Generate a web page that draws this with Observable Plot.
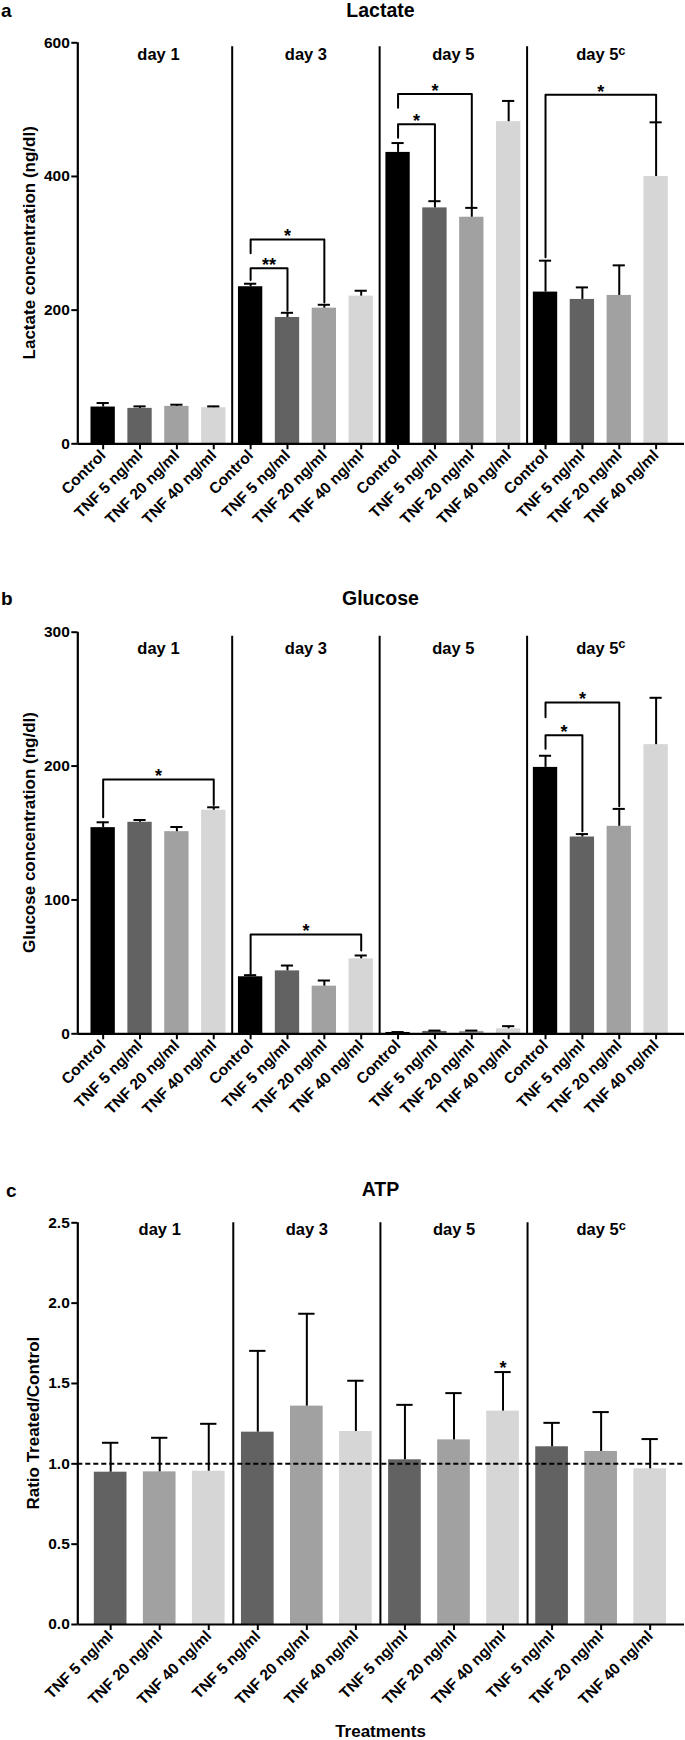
<!DOCTYPE html>
<html>
<head>
<meta charset="utf-8">
<script src="https://cdn.jsdelivr.net/npm/d3@7"></script>
<script src="https://cdn.jsdelivr.net/npm/@observablehq/plot@0.6"></script>
<style>
  body { margin: 0; background: #fff; }
  #root { position: relative; width: 685px; height: 1740px; overflow: hidden;
          font-family: "Liberation Sans", Arial, Helvetica, sans-serif; font-weight: bold; color: #000; background: #fff; }
  .abs { position: absolute; white-space: nowrap; line-height: 1; }
  .panel { position: absolute; left: 0; }
</style>
</head>
<body>
<div id="root"></div>
<script>
// ---------- data ----------
const groups = ["day 1", "day 3", "day 5", "day 5c"];
const lacTreatments = ["Control", "TNF 5 ng/ml", "TNF 20 ng/ml", "TNF 40 ng/ml"];
const atpTreatments = ["TNF 5 ng/ml", "TNF 20 ng/ml", "TNF 40 ng/ml"];
const treatmentColors = ["#000000", "#626262", "#a1a1a1", "#d6d6d6"];

// Lactate (ng/dl): mean and upper SD, 4 treatments x 4 days
const lactateMean = [55, 53, 56, 54, 235, 189, 203, 221, 436, 353, 339, 482, 227, 216, 222, 400];
const lactateErr  = [6, 3, 2.5, 2, 4.5, 7, 5, 8, 14, 10, 14, 31, 47, 18, 45, 81];
const lactateTicks = [0, 200, 400, 600];
const lacBrFrom  = [4, 4, 8, 8, 12];
const lacBrTo    = [5, 6, 9, 10, 15];
const lacBrLevel = [262.5, 305.8, 478, 523.4, 522.4];
const lacBrLeft  = [245, 285, 458, 503, 279];
const lacBrRight = [199, 211.6, 364.5, 355, 482];
const lacBrLabel = ["**", "*", "*", "*", "*"];

// Glucose (ng/dl)
const glucoseMean = [154, 158, 151, 167, 42.6, 47, 35.6, 56, 1.0, 1.8, 1.8, 3.7, 199, 147, 155, 216];
const glucoseErr  = [4, 1.7, 3.5, 2.2, 1.2, 4, 4.2, 2.5, 0.3, 0.6, 0.6, 2.0, 8.7, 2.2, 13, 35];
const glucoseTicks = [0, 100, 200, 300];
const gluBrFrom  = [0, 4, 12, 12];
const gluBrTo    = [3, 7, 13, 14];
const gluBrLevel = [190, 74.2, 223, 247.5];
const gluBrLeft  = [161.8, 44.8, 212.9, 236.5];
const gluBrRight = [171, 62.2, 151.4, 170];
const gluBrLabel = ["*", "*", "*", "*"];

// ATP ratio treated / control, 3 treatments x 4 days
const atpMean = [0.948, 0.950, 0.954, 1.197, 1.359, 1.201, 1.025, 1.149, 1.328, 1.106, 1.077, 0.969];
const atpErr  = [0.183, 0.212, 0.295, 0.506, 0.575, 0.316, 0.342, 0.291, 0.243, 0.149, 0.245, 0.185];
const atpTicks = [0, 0.5, 1.0, 1.5, 2.0, 2.5];
const atpReference = [1];
const atpStarIndex = [8];
const atpStarLabel = ["*"];

// ---------- drawing ----------
const FONT = '"Liberation Sans", Arial, Helvetica, sans-serif';

function barPanel(cfg) {
  const {treats, means, errs, yDomain, yTicks, yTickFormat, yLabel, labelX, br, stars, refLine,
         height, marginTop, marginBottom, xDomain, half, dayDy, sepInset} = cfg;
  const nPer = treats.length;
  const rows = means.map((m, i) => ({i, treat: treats[i % nPer], mean: m, top: m + errs[i]}));
  const seps = groups.slice(1).map((g, k) => (k + 1) * nPer - 0.5);
  const dayRows = groups.map((g, k) => ({label: g, x: (k * nPer + (k + 1) * nPer - 1) / 2}));
  const brPts = [], brText = [];
  if (br) br.from.forEach((f, k) => {
    const t = br.to[k];
    brPts.push({id: k, x: f, y: br.left[k]}, {id: k, x: f, y: br.level[k]},
               {id: k, x: t, y: br.level[k]}, {id: k, x: t, y: br.right[k]});
    brText.push({x: (f + t) / 2, y: br.level[k], text: br.label[k]});
  });
  const starRows = stars ? stars.idx.map((i, k) => ({x: i, y: rows[i].top, text: stars.label[k]})) : [];

  const svg = Plot.plot({
    width: 685, height, marginTop, marginBottom, marginLeft: 77.3, marginRight: 1,
    x: {type: "linear", domain: xDomain},
    y: {domain: yDomain},
    color: {domain: lacTreatments, range: treatmentColors},
    style: {fontFamily: FONT, fontWeight: "bold", fontSize: "14px", color: "#000", background: "#fff", overflow: "visible"},
    marks: [
      Plot.rectY(rows, {x1: d => d.i - half, x2: d => d.i + half, y1: 0, y2: "mean", fill: "treat"}),
      Plot.ruleX(rows, {x: "i", y1: "mean", y2: "top", stroke: "#000", strokeWidth: 2}),
      Plot.ruleY(rows, {y: "top", x1: d => d.i - half / 2, x2: d => d.i + half / 2, stroke: "#000", strokeWidth: 2}),
      refLine ? Plot.ruleY(refLine, {stroke: "#000", strokeWidth: 2, strokeDasharray: "5,3"}) : null,
      Plot.ruleX(seps, {insetTop: sepInset, stroke: "#000", strokeWidth: 2}),
      Plot.ruleY([yDomain[0]], {stroke: "#000", strokeWidth: 2.2}),
      Plot.ruleX([xDomain[0]], {y1: yDomain[0], y2: yDomain[1], stroke: "#000", strokeWidth: 2.2}),
      Plot.line(brPts, {x: "x", y: "y", z: "id", stroke: "#000", strokeWidth: 2}),
      Plot.text(brText, {x: "x", y: "y", text: "text", lineAnchor: "bottom", dy: 3, fontSize: 18}),
      Plot.text(starRows, {x: "x", y: "y", text: "text", lineAnchor: "bottom", dy: 2, fontSize: 18}),
      Plot.text(dayRows, {x: "x", text: "label", frameAnchor: "top", lineAnchor: "bottom", dy: dayDy, fontSize: 16.5}),
      Plot.axisY({ticks: yTicks, tickFormat: yTickFormat, tickSize: 6, tickPadding: 2, stroke: "#000", strokeWidth: 2, fontSize: 15.5, label: null}),
      Plot.axisX({ticks: rows.map(d => d.i), tickFormat: i => treats[i % nPer], tickRotate: -45,
                  tickSize: 6, tickPadding: 3, stroke: "#000", strokeWidth: 2, fontSize: 15.5, label: null})
    ]
  });
  // superscript "c" in "day 5c"
  d3.select(svg).selectAll("text").filter(function () { return this.textContent === "day 5c"; })
    .each(function () {
      const t = d3.select(this);
      t.text("day 5");
      t.append("tspan").attr("dy", "-0.45em").attr("font-size", "0.78em").text("c");
    });
  // rotated y-axis title, centred on the frame's vertical middle
  const cy = (marginTop + height - marginBottom) / 2;
  d3.select(svg).append("text")
    .attr("class", "ytitle")
    .attr("transform", `translate(${labelX},${cy}) rotate(-90)`)
    .attr("text-anchor", "middle")
    .attr("dy", "0.35em")
    .attr("font-size", 17)
    .attr("font-weight", "bold")
    .attr("fill", "#000")
    .text(yLabel);
  return svg;
}

const root = document.getElementById("root");
function place(el, top) { const d = document.createElement("div"); d.className = "panel"; d.style.top = top + "px"; d.appendChild(el); root.appendChild(d); }
function label(text, size, left, baseline, center) {
  const d = document.createElement("div");
  d.className = "abs"; d.textContent = text;
  d.style.fontSize = size + "px";
  d.style.top = Math.max(0, baseline - 0.8465 * size) + "px";
  d.style.left = left + "px";
  if (center) d.style.transform = "translateX(-50%)";
  root.appendChild(d);
}

const lacX = [-0.688, 15.77];
const atpX = [-0.670, 11.70];

place(barPanel({
  treats: lacTreatments, means: lactateMean, errs: lactateErr, yDomain: [0, 600], yTicks: lactateTicks,
  yTickFormat: d => String(d), yLabel: "Lactate concentration (ng/dl)", labelX: 29.5,
  br: {from: lacBrFrom, to: lacBrTo, level: lacBrLevel, left: lacBrLeft, right: lacBrRight, label: lacBrLabel},
  height: 545, marginTop: 42.3, marginBottom: 101.7, xDomain: lacX, half: 0.33, dayDy: 17.5, sepInset: 4
}), 0);

place(barPanel({
  treats: lacTreatments, means: glucoseMean, errs: glucoseErr, yDomain: [0, 300], yTicks: glucoseTicks,
  yTickFormat: d => String(d), yLabel: "Glucose concentration (ng/dl)", labelX: 29.5,
  br: {from: gluBrFrom, to: gluBrTo, level: gluBrLevel, left: gluBrLeft, right: gluBrRight, label: gluBrLabel},
  height: 580, marginTop: 71.7, marginBottom: 106.7, xDomain: lacX, half: 0.33, dayDy: 21.5, sepInset: 4
}), 560);

place(barPanel({
  treats: atpTreatments, means: atpMean, errs: atpErr, yDomain: [0, 2.5], yTicks: atpTicks,
  yTickFormat: d3.format(".1f"), yLabel: "Ratio Treated/Control", labelX: 33.5,
  stars: {idx: atpStarIndex, label: atpStarLabel}, refLine: atpReference,
  height: 575, marginTop: 72.3, marginBottom: 101, xDomain: atpX, half: 0.333, dayDy: 12.5, sepInset: 0
}), 1150);

// titles and panel letters
label("a", 19, 1, 17, false);
label("Lactate", 19.5, 380.5, 17.5, true);
label("b", 19, 1, 605, false);
label("Glucose", 19.5, 380.5, 606, true);
label("c", 19, 6, 1196.7, false);
label("ATP", 19.5, 380.5, 1196.7, true);
label("Treatments", 17, 380.5, 1737, true);
</script>
</body>
</html>
